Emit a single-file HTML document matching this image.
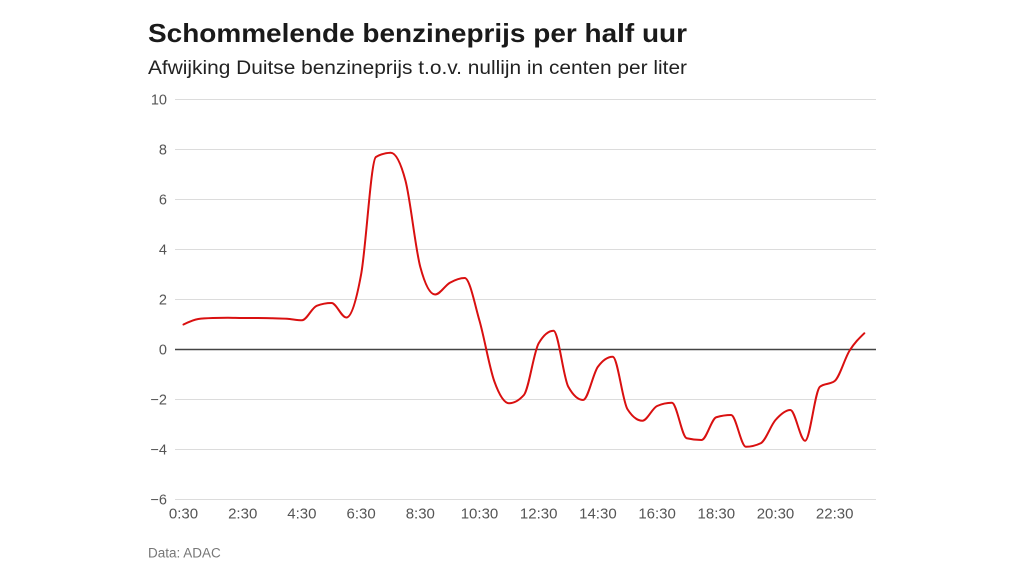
<!DOCTYPE html>
<html>
<head>
<meta charset="utf-8">
<style>
  html, body { margin: 0; padding: 0; background: #fff; }
  body { width: 1024px; height: 576px; overflow: hidden; }
  svg { display: block; }
  text { font-family: "Liberation Sans", "DejaVu Sans", sans-serif; }
</style>
</head>
<body>
<svg id="chart" width="1024" height="576" viewBox="0 0 1024 576" xmlns="http://www.w3.org/2000/svg">
  <rect x="0" y="0" width="1024" height="576" fill="#ffffff"/>
  <text x="148" y="42" font-size="26" font-weight="bold" fill="#1a1a1a" textLength="539" lengthAdjust="spacingAndGlyphs">Schommelende benzineprijs per half uur</text>
  <text x="148" y="74" font-size="19" fill="#222" textLength="539" lengthAdjust="spacingAndGlyphs">Afwijking Duitse benzineprijs t.o.v. nullijn in centen per liter</text>

  <g id="grid" stroke="#dcdcdc" stroke-width="1">
    <line x1="175" y1="99.5" x2="876" y2="99.5"/>
    <line x1="175" y1="149.5" x2="876" y2="149.5"/>
    <line x1="175" y1="199.5" x2="876" y2="199.5"/>
    <line x1="175" y1="249.5" x2="876" y2="249.5"/>
    <line x1="175" y1="299.5" x2="876" y2="299.5"/>
    <line x1="175" y1="399.5" x2="876" y2="399.5"/>
    <line x1="175" y1="449.5" x2="876" y2="449.5"/>
    <line x1="175" y1="499.5" x2="876" y2="499.5"/>
  </g>
  <line x1="175" y1="349.5" x2="876" y2="349.5" stroke="#444" stroke-width="1.4"/>

  <g font-size="14.5" fill="#555" text-anchor="end">
    <text x="167" y="104.5">10</text>
    <text x="167" y="154.5">8</text>
    <text x="167" y="204.5">6</text>
    <text x="167" y="254.5">4</text>
    <text x="167" y="304.5">2</text>
    <text x="167" y="354.5">0</text>
    <text x="167" y="404.5">−2</text>
    <text x="167" y="454.5">−4</text>
    <text x="167" y="504.5">−6</text>
  </g>

  <g font-size="15" fill="#555" text-anchor="middle">
    <text x="183.5" y="518.5">0:30</text>
    <text x="242.7" y="518.5">2:30</text>
    <text x="301.9" y="518.5">4:30</text>
    <text x="361.1" y="518.5">6:30</text>
    <text x="420.3" y="518.5">8:30</text>
    <text x="479.5" y="518.5">10:30</text>
    <text x="538.7" y="518.5">12:30</text>
    <text x="597.9" y="518.5">14:30</text>
    <text x="657.1" y="518.5">16:30</text>
    <text x="716.3" y="518.5">18:30</text>
    <text x="775.5" y="518.5">20:30</text>
    <text x="834.7" y="518.5">22:30</text>
  </g>

  <text x="148" y="557.5" font-size="13.5" fill="#777">Data: ADAC</text>

  <path id="series" d="" fill="none" stroke="#d91010" stroke-width="2" stroke-linejoin="round" stroke-linecap="round"/>
</svg>
<script>
(function(){
  var vals = [1.0,1.22,1.26,1.27,1.26,1.26,1.25,1.23,1.17,1.75,1.86,1.28,3.0,7.7,7.87,6.75,3.3,2.2,2.67,2.86,1.15,-1.27,-2.15,-1.82,0.25,0.75,-1.49,-2.02,-0.69,-0.29,-2.39,-2.85,-2.26,-2.13,-3.55,-3.62,-2.71,-2.62,-3.89,-3.75,-2.82,-2.42,-3.65,-1.49,-1.26,-0.05,0.65];
  var pts = vals.map(function(v,i){ return [183.5 + i*14.8, 349.5 - 25*v]; });
  var n = pts.length;
  function sign(x){ return x < 0 ? -1 : 1; }
  var t = new Array(n);
  for (var i=1;i<n-1;i++){
    var x0=pts[i-1][0], y0=pts[i-1][1], x1=pts[i][0], y1=pts[i][1], x2=pts[i+1][0], y2=pts[i+1][1];
    var h0=x1-x0, h1=x2-x1, s0=(y1-y0)/h0, s1=(y2-y1)/h1, p=(s0*h1+s1*h0)/(h0+h1);
    t[i] = (sign(s0)+sign(s1)) * Math.min(Math.abs(s0), Math.abs(s1), 0.5*Math.abs(p)) || 0;
  }
  function slope2(a,b,tt){ var h=b[0]-a[0]; return h ? (3*(b[1]-a[1])/h - tt)/2 : tt; }
  t[0] = slope2(pts[0], pts[1], t[1]);
  t[n-1] = slope2(pts[n-2], pts[n-1], t[n-2]);
  var d = "M" + pts[0][0].toFixed(2) + "," + pts[0][1].toFixed(2);
  for (var j=0;j<n-1;j++){
    var a=pts[j], b=pts[j+1], dx=(b[0]-a[0])/3;
    d += "C" + (a[0]+dx).toFixed(2) + "," + (a[1]+dx*t[j]).toFixed(2) + " " +
         (b[0]-dx).toFixed(2) + "," + (b[1]-dx*t[j+1]).toFixed(2) + " " +
         b[0].toFixed(2) + "," + b[1].toFixed(2);
  }
  document.getElementById("series").setAttribute("d", d);
})();
</script>
</body>
</html>
